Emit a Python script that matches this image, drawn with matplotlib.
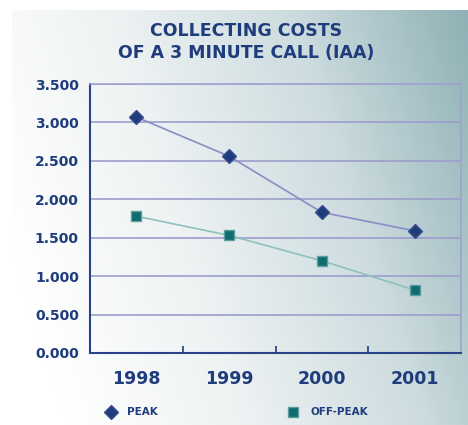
import numpy as np
import matplotlib.pyplot as plt
from matplotlib.lines import Line2D
from matplotlib.colors import LinearSegmentedColormap

# Dados
years = ['1998', '1999', '2000', '2001']
peak = [3.07, 2.56, 1.83, 1.59]
off_peak = [1.78, 1.53, 1.20, 0.82]
yticks = [0.0, 0.5, 1.0, 1.5, 2.0, 2.5, 3.0, 3.5]

navy = '#1f3c7c'
teal = '#0f6d70'

fig = plt.figure(figsize=(4.68, 4.25), dpi=100)
fig.patch.set_facecolor('white')

# Fundo em gradiente
bg = fig.add_axes([12 / 468, 0, 1 - 12 / 468, 1 - 10 / 425])
bg.set_axis_off()
gx, gy = np.meshgrid(np.linspace(0, 1, 300), np.linspace(0, 1, 300))
g = np.clip(0.85 * gx + 0.25 * gy - 0.1, 0, 1)
cmap = LinearSegmentedColormap.from_list('bg', ['#ffffff', '#eef2f3', '#cddcdf', '#8fb1b5'])
bg.imshow(g, cmap=cmap, aspect='auto', origin='lower', extent=[0, 1, 0, 1])

ax = fig.add_axes([90 / 468, 72 / 425, 371 / 468, 269 / 425])
ax.patch.set_alpha(0)

x = np.arange(len(years))
ax.plot(x, peak, color='#8a8cc4', lw=1.2, marker='D', ms=7,
        mfc=navy, mec='#3a4f8e', zorder=3)
ax.plot(x, off_peak, color='#8fc0c0', lw=1.2, marker='s', ms=6.5,
        mfc=teal, mec='#5e9ea0', zorder=3)

ax.set_xlim(-0.5, 3.5)
ax.set_ylim(0, 3.5)
ax.set_yticks(yticks)
ax.set_yticklabels(['%.3f' % v for v in yticks])
ax.yaxis.grid(True, color='#9c9dcc', lw=1.2)
ax.set_axisbelow(True)

ax.set_xticks(x)
ax.set_xticklabels(years)
ax.set_xticks([0.5, 1.5, 2.5], minor=True)
ax.tick_params(axis='x', which='major', length=0, pad=12,
               labelsize=12.5, labelcolor=navy)
ax.tick_params(axis='x', which='minor', length=5, direction='in', color=navy, width=1.2)
ax.tick_params(axis='y', length=0, pad=8, labelsize=10, labelcolor=navy)
for lab in ax.get_xticklabels() + ax.get_yticklabels():
    lab.set_fontweight('bold')

for s in ['left', 'bottom']:
    ax.spines[s].set_color('#2a4388')
    ax.spines[s].set_linewidth(1.5)
for s in ['top', 'right']:
    ax.spines[s].set_color('#a0a2d0')
    ax.spines[s].set_linewidth(1.2)

fig.text(0.525, 0.927, 'COLLECTING COSTS', ha='center', va='center',
         fontsize=12.5, fontweight='bold', color=navy)
fig.text(0.525, 0.875, 'OF A 3 MINUTE CALL (IAA)', ha='center', va='center',
         fontsize=12.5, fontweight='bold', color=navy)

handles = [Line2D([], [], ls='', marker='D', ms=7, mfc=navy, mec='#3a4f8e'),
           Line2D([], [], ls='', marker='s', ms=6.5, mfc=teal, mec='#5e9ea0')]
leg = fig.legend(handles, ['PEAK', 'OFF-PEAK'], loc='center', ncol=2,
                 bbox_to_anchor=(0.5, 0.03), frameon=False, columnspacing=12,
                 handletextpad=0.6, prop={'size': 7.5, 'weight': 'bold'})
for t in leg.get_texts():
    t.set_color(navy)

plt.savefig('out.png', dpi=100)
